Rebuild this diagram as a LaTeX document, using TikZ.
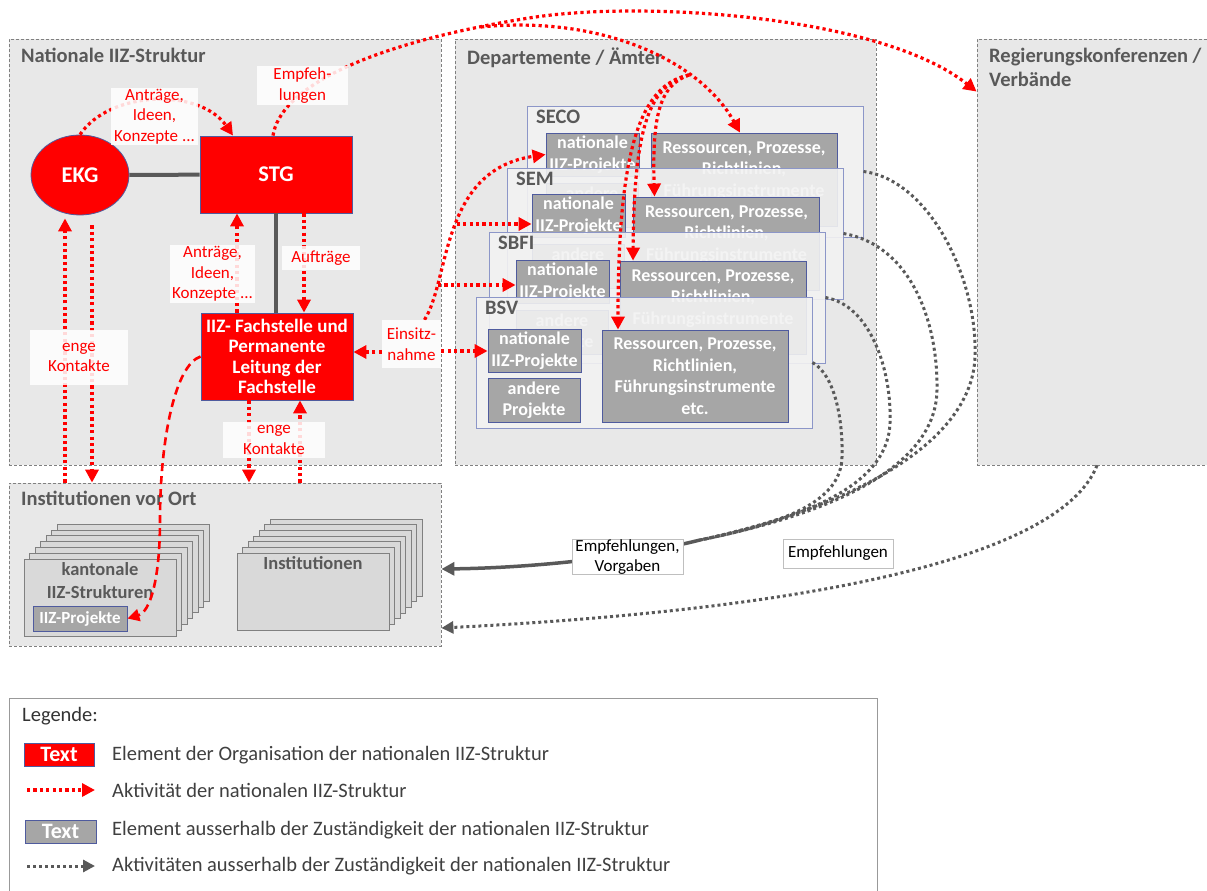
\documentclass[tikz,border=0pt]{standalone}
\usepackage{fontspec}
\setmainfont{Carlito}
\usetikzlibrary{arrows.meta,shapes.geometric}

\definecolor{iizred}{HTML}{FF0000}
\definecolor{edgeblue}{HTML}{4F5B9E}
\definecolor{panelblue}{HTML}{8C96C8}
\definecolor{framefill}{HTML}{E8E8E8}
\definecolor{framedash}{HTML}{808080}
\definecolor{txtgray}{HTML}{595959}
\definecolor{boxgray}{HTML}{A6A6A6}
\definecolor{cardgray}{HTML}{D9D9D9}
\definecolor{panelfill}{HTML}{F2F2F2}

\pgfdeclarelayer{front}
\pgfsetlayers{main,front}

\begin{document}
\begin{tikzpicture}[x=1pt,y=-1pt]

      \tikzset{frame/.style={draw=framedash, line width=0.8pt, dash pattern=on 3pt off 2pt, fill=framefill, inner sep=0pt},
               frametitle/.style={anchor=north west, inner sep=0pt, text=txtgray, align=left, font=\fontsize{20.5}{24.3}\selectfont\bfseries},
               iizbox/.style={draw=edgeblue, line width=0.8pt, fill=iizred, text=white, align=center, inner sep=0pt, font=\fontsize{19}{20.5}\selectfont\bfseries},
               panel/.style={draw=panelblue, line width=0.9pt, fill=panelfill, fill opacity=0.9, minimum width=336pt, minimum height=131pt, inner sep=0pt},
               ptitle/.style={anchor=north west, inner sep=0pt, text=txtgray, font=\fontsize{20.5}{22}\selectfont\bfseries},
               subbox/.style={draw=edgeblue, line width=0.8pt, fill=boxgray, text=white, align=center, inner sep=0pt, font=\fontsize{18}{21.5}\selectfont\bfseries},
               card/.style={draw=framedash, line width=0.8pt, fill=cardgray, minimum width=152pt, minimum height=77pt, inner sep=0pt},
               cardtext/.style={anchor=north, inner sep=0pt, text=txtgray, align=center, font=\fontsize{18.5}{23}\selectfont\bfseries},
               lbl/.style={fill=white, fill opacity=0.85, text opacity=1, text=iizred, align=center, inner sep=0pt, font=\fontsize{17}{20.5}\selectfont},
               blbl/.style={draw=black!25, line width=0.6pt, fill=white, align=center, inner sep=0pt, font=\fontsize{17}{20}\selectfont},
               legtext/.style={anchor=west, inner sep=0pt, text=black!75, font=\fontsize{20.5}{22}\selectfont},
               link/.style={draw=txtgray, line width=4pt},
               act/.style={draw=iizred, line width=3.2pt, dash pattern=on 3.2pt off 3.2pt, -{Triangle[length=13pt,width=13pt]}},
               actdash/.style={draw=iizred, line width=2.6pt, dash pattern=on 8pt off 5pt, -{Triangle[length=12pt,width=12pt]}},
               ext/.style={draw=txtgray, line width=3pt, dash pattern=on 3pt off 3pt},
               extarrow/.style={ext, -{Triangle[length=12pt,width=12pt]}},
               extsolid/.style={draw=txtgray, line width=3.5pt, -{Triangle[length=13pt,width=13pt]}}}

      \useasboundingbox (0,0) rectangle (1207,891);

%% Frames
      	\node[frame, minimum width=432pt, minimum height=426pt] (nat) at (225,252) {};
      	\node[frame, minimum width=421pt, minimum height=426pt] (dep) at (665.5,252) {};
      	\node[frame, minimum width=232pt, minimum height=426pt] (reg) at (1093,252) {};
      	\node[frame, minimum width=432pt, minimum height=163pt] (ort) at (225,564.5) {};
      	\node[draw=black!40, line width=0.8pt, fill=white, minimum width=868pt, minimum height=200pt] (leg) at (443,798) {};

      	\node[frametitle] (natT) at (21,48) {Nationale IIZ-Struktur};
      	\node[frametitle] (depT) at (467,48) {Departemente / Ämter};
      	\node[frametitle] (regT) at (989,48) {Regierungskonferenzen /\\Verbände};
      	\node[frametitle] (ortT) at (21,491) {Institutionen vor Ort};

%% Nationale IIZ-Struktur
      	\node[iizbox, ellipse, minimum width=98pt, minimum height=80pt, font=\fontsize{22.5}{24}\selectfont\bfseries] (ekg) at (80,175) {EKG};
      	\node[iizbox, minimum width=152pt, minimum height=77pt, font=\fontsize{22.5}{24}\selectfont\bfseries] (stg) at (276,174.5) {STG};
      	\node[iizbox, minimum width=152pt, minimum height=87pt] (fach) at (277,356.5) {IIZ- Fachstelle und\\Permanente\\Leitung der\\Fachstelle};

		\draw[link] (ekg) -- (stg);
		\draw[link] (stg.south) -- (stg.south |- fach.north);

%% Departemente / Aemter
      	\node[panel] (seco) at (695,171.5) {};
      	\node[ptitle] (secoT) at (536,110) {SECO};
      	\node[subbox, minimum width=93pt, minimum height=43pt] (secoNat) at (592.5,154.5) {nationale\\IIZ-Projekte};
      	\node[subbox, minimum width=92pt, minimum height=44pt] (secoAnd) at (592,205) {andere\\Projekte};
      	\node[subbox, minimum width=186pt, minimum height=93pt] (secoRes) at (744,179.5) {Ressourcen, Prozesse,\\Richtlinien,\\Führungsinstrumente\\etc.};

      	\node[panel] (sem) at (675,233.5) {};
      	\node[ptitle] (semT) at (516,172) {SEM};
      	\node[subbox, minimum width=93pt, minimum height=43pt] (semNat) at (578.5,215.5) {nationale\\IIZ-Projekte};
      	\node[subbox, minimum width=92pt, minimum height=44pt] (semAnd) at (578,266) {andere\\Projekte};
      	\node[subbox, minimum width=186pt, minimum height=93pt] (semRes) at (726.5,243.5) {Ressourcen, Prozesse,\\Richtlinien,\\Führungsinstrumente\\etc.};

      	\node[panel] (sbfi) at (657,297.5) {};
      	\node[ptitle] (sbfiT) at (498,236) {SBFI};
      	\node[subbox, minimum width=93pt, minimum height=43pt] (sbfiNat) at (562.5,281.5) {nationale\\IIZ-Projekte};
      	\node[subbox, minimum width=92pt, minimum height=44pt] (sbfiAnd) at (562,332) {andere\\Projekte};
      	\node[subbox, minimum width=186pt, minimum height=93pt] (sbfiRes) at (713,307.5) {Ressourcen, Prozesse,\\Richtlinien,\\Führungsinstrumente\\etc.};

      	\node[panel] (bsv) at (644,362.5) {};
      	\node[ptitle] (bsvT) at (485,301) {BSV};
      	\node[subbox, minimum width=93pt, minimum height=43pt] (bsvNat) at (534.5,350.5) {nationale\\IIZ-Projekte};
      	\node[subbox, minimum width=92pt, minimum height=44pt] (bsvAnd) at (534,400) {andere\\Projekte};
      	\node[subbox, minimum width=186pt, minimum height=92pt] (bsvRes) at (695,376) {Ressourcen, Prozesse,\\Richtlinien,\\Führungsinstrumente\\etc.};

%% Institutionen vor Ort
      	\node[card] (kant6) at (133,562.7) {};
      	\node[card] (kant5) at (127.5,568.5) {};
      	\node[card] (kant4) at (122,574.3) {};
      	\node[card] (kant3) at (116.5,580.1) {};
      	\node[card] (kant2) at (111,585.9) {};
      	\node[card] (kant1) at (105.5,591.7) {};
      	\node[card] (kant) at (100,597.5) {};
      	\node[cardtext] (kantT) at (100,562) {kantonale\\IIZ-Strukturen};
      	\node[subbox, minimum width=94pt, minimum height=25pt, font=\fontsize{17}{19}\selectfont\bfseries] (iizp) at (80,618.5) {IIZ-Projekte};

      	\node[card] (inst6) at (346,557.5) {};
      	\node[card] (inst5) at (340.5,563.2) {};
      	\node[card] (inst4) at (335,568.8) {};
      	\node[card] (inst3) at (329.5,574.5) {};
      	\node[card] (inst2) at (324,580.2) {};
      	\node[card] (inst1) at (318.5,585.8) {};
      	\node[card] (inst) at (313,591.5) {};
      	\node[cardtext] (instT) at (313,556) {Institutionen};

%% Labels
\begin{pgfonlayer}{front}
      	\node[lbl, minimum width=87pt, minimum height=57pt] (lblA1) at (154.5,116.5) {Anträge,\\Ideen,\\Konzepte ...};
      	\node[lbl, minimum width=91pt, minimum height=39pt] (lblEmpf) at (302.5,85.5) {Empfeh-\\lungen};
      	\node[lbl, minimum width=85pt, minimum height=58pt] (lblA2) at (212.5,274) {Anträge,\\Ideen,\\Konzepte ...};
      	\node[lbl, minimum width=78pt, minimum height=24pt] (lblAuf) at (321,258) {Aufträge};
      	\node[lbl, minimum width=98pt, minimum height=55pt] (lblK1) at (79,357.5) {enge\\Kontakte};
      	\node[lbl, minimum width=102pt, minimum height=36pt] (lblK2) at (274,440) {enge\\Kontakte};
      	\node[lbl, minimum width=59pt, minimum height=48pt] (lblEins) at (411.5,344) {Einsitz-\\nahme};
      	\node[blbl, minimum width=111pt, minimum height=32pt] (lblVor) at (627.5,557) {Empfehlungen,\\Vorgaben};
      	\node[blbl, minimum width=110pt, minimum height=29pt] (lblEmpf2) at (838,553.5) {Empfehlungen};
\end{pgfonlayer}

%Activities of the national structure
		\draw[act] (ekg.north) .. controls (110,90) and (200,88) .. ([xshift=-43]stg.north);
		\draw[act] ([xshift=-3]stg.north) .. controls (280,90) and (360,45) .. (529,18) .. controls (640,0) and (880,15) .. ([yshift=-53]reg.north west);
		\coordinate (split) at (481,27);
		\coordinate (fork) at (689,75);
		\draw[act] (split) .. controls (600,15) and (700,60) .. ([xshift=-4]secoRes.north);
		\draw[act] (fork) .. controls (660,85) and (652,115) .. ([xshift=-72]semRes.north);
		\draw[act] (fork) .. controls (650,85) and (634,125) .. ([xshift=-80]sbfiRes.north);
		\draw[act] (fork) .. controls (640,85) and (618,150) .. ([xshift=-77]bsvRes.north);

		\draw[act] ([yshift=-8]lblEins.west) -- ([yshift=4.5]fach.east);
		\draw[act] ([yshift=-7]lblEins.east) -- ([yshift=-0.5]bsvNat.west);
		\draw[act] ([xshift=13]lblEins.north) .. controls (450,280) and (440,170) .. (secoNat.west);
		\coordinate (e2) at (456.7,224);
		\coordinate (e3) at (438,285);
		\draw[act] (e2) -- ([yshift=-8.5]semNat.west);
		\draw[act] (e3) -- ([yshift=-3.5]sbfiNat.west);

		\draw[act] ([xshift=-160]ort.north) -- ([xshift=-15,yshift=-3]ekg.south);
		\draw[act] ([xshift=12,yshift=-10]ekg.south) -- ([xshift=-133]ort.north);
		\draw[act] ([xshift=-28]fach.south) -- ([xshift=24]ort.north);
		\draw[act] ([xshift=75]ort.north) -- ([xshift=23]fach.south);
		\draw[act] ([xshift=-40]fach.north) -- ([xshift=-39]stg.south);
		\draw[act] ([xshift=28]stg.south) -- ([xshift=27]fach.north);

		\draw[actdash] (fach.west) .. controls (175,365) and (160,440) .. (160,520) .. controls (160,580) and (150,612) .. (iizp.east);

%Activities outside
		\coordinate (mg) at (700,540);
		\draw[ext] (seco.east) .. controls (930,180) and (978,280) .. (975,357) .. controls (972,440) and (860,505) .. (mg);
		\draw[ext] (sem.east) .. controls (910,245) and (938,320) .. (937,390) .. controls (936,460) and (850,510) .. (mg);
		\draw[ext] (sbfi.east) .. controls (870,305) and (892,370) .. (890,423) .. controls (888,480) and (820,515) .. (mg);
		\draw[ext] (bsv.east) .. controls (835,375) and (843,420) .. (842,457) .. controls (841,500) and (790,522) .. (mg);
		\draw[extsolid] (mg) .. controls (620,560) and (520,568) .. ([yshift=-4.5]ort.east);
		\draw[extarrow] ([xshift=4]reg.south) .. controls (1060,560) and (800,610) .. ([yshift=-63.5]ort.east);

%% Legend
      	\node[legtext, text=black!80] (legH) at (22,716) {Legende:};
      	\node[iizbox, minimum width=70pt, minimum height=23pt, font=\fontsize{22}{24}\selectfont\bfseries] (legR) at (59,754.5) {Text};
      	\node[legtext] (legT1) at (112,755) {Element der Organisation der nationalen IIZ-Struktur};
      	\coordinate (la1) at (27,790);
      	\coordinate (la2) at (95,790);
		\draw[act] (la1) -- (la2);
      	\node[legtext] (legT2) at (112,790) {Aktivität der nationalen IIZ-Struktur};
      	\node[subbox, minimum width=71pt, minimum height=23pt, font=\fontsize{22}{24}\selectfont\bfseries] (legG) at (60.5,831.5) {Text};
      	\node[legtext] (legT3) at (112,830) {Element ausserhalb der Zuständigkeit der nationalen IIZ-Struktur};
      	\coordinate (lb1) at (27,866);
      	\coordinate (lb2) at (95,866);
		\draw[extarrow] (lb1) -- (lb2);
      	\node[legtext] (legT4) at (112,866) {Aktivitäten ausserhalb der Zuständigkeit der nationalen IIZ-Struktur};

	\end{tikzpicture}
\end{document}
